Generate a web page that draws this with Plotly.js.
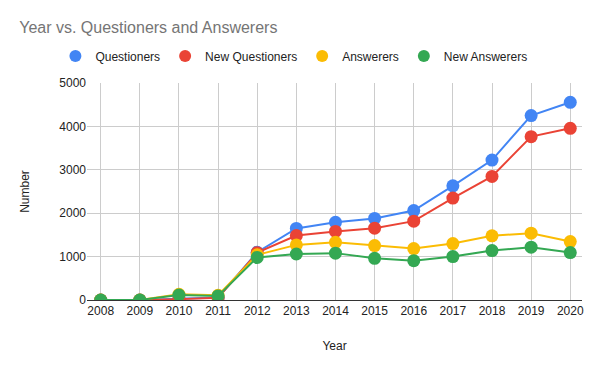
<!DOCTYPE html>
<html><head><meta charset="utf-8">
<script src="https://cdn.plot.ly/plotly-3.0.1.min.js"></script>
<style>html,body{margin:0;padding:0;background:#fff}#chart{width:600px;height:371px}</style>
</head><body><div id="chart"></div>
<script>
const years = [2008,2009,2010,2011,2012,2013,2014,2015,2016,2017,2018,2019,2020];
const questioners    = [0,0,30,60,1100,1650,1790,1880,2060,2630,3225,4250,4555];
const newQuestioners = [0,0,20,50,1090,1485,1580,1655,1817,2348,2848,3764,3956];
const answerers      = [0,0,130,110,1040,1270,1330,1255,1185,1300,1478,1540,1347];
const newAnswerers   = [0,0,115,95,980,1060,1080,960,905,1000,1139,1217,1093];
const names = ["Questioners","New Questioners","Answerers","New Answerers"];
const colors = ["#4285f4","#ea4335","#fbbc04","#34a853"];
const series = [questioners,newQuestioners,answerers,newAnswerers];

const traces = series.map((s,i)=>({
  x: years, y: s, name: names[i], type:'scatter', mode:'lines+markers',
  showlegend:false,
  line:{color:colors[i], width:2},
  marker:{color:colors[i], size:13}
}));
// legend entries (markers only, like the reference)
names.forEach((n,i)=>traces.push({
  x:[null], y:[null], name:n, type:'scatter', mode:'markers',
  marker:{color:colors[i], size:12}, showlegend:true
}));

const font = 'Liberation Sans, Arial, sans-serif';
const layout = {
  width:600, height:371,
  margin:{l:87, r:18, t:83, b:71},
  paper_bgcolor:'#fff', plot_bgcolor:'#fff',
  font:{family:font, size:12, color:'#222'},
  title:{text:'Year vs. Questioners and Answerers', x:0.032, xanchor:'left', y:0.925, yanchor:'middle',
         font:{size:16, color:'#757575', family:font}},
  showlegend:true,
  legend:{orientation:'h', x:0.418, xanchor:'center', y:1.124, yanchor:'middle',
          font:{size:12, color:'#222'}, itemwidth:30, traceorder:'normal'},
  xaxis:{range:[2007.65,2020.3], tickmode:'array', tickvals:years, ticktext:years.map(String),
         showgrid:true, gridcolor:'#cccccc', gridwidth:1, zeroline:false,
         showline:true, linecolor:'#333', linewidth:1, ticks:'',
         title:{text:'Year', font:{size:12, color:'#222'}, standoff:24}},
  yaxis:{range:[0,5000], tickvals:[0,1000,2000,3000,4000,5000],
         showgrid:true, gridcolor:'#cccccc', gridwidth:1, zeroline:false, ticks:'',
         title:{text:'Number', font:{size:12, color:'#222'}, standoff:27}}
};
Plotly.newPlot('chart', traces, layout, {displayModeBar:false, staticPlot:true});
</script></body></html>
